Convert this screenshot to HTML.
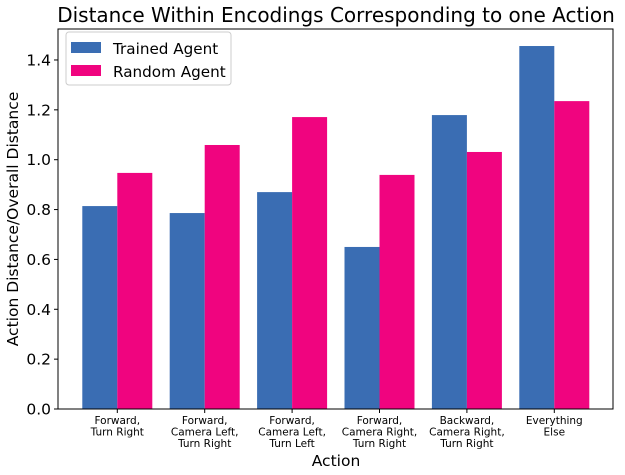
<!DOCTYPE html>
<html><head><meta charset="utf-8"><style>
body{margin:0;background:#fff;}
svg{display:block;font-family:"DejaVu Sans","Liberation Sans",sans-serif;}
</style></head><body>
<svg id="chart" width="625" height="475" viewBox="0 0 625 475" xmlns="http://www.w3.org/2000/svg">
<text x="336" y="22" font-size="20" text-anchor="middle">Distance Within Encodings Corresponding to one Action</text>
<g id="grid"></g>
<g id="bars"></g>
<rect x="58" y="29" width="555" height="380" fill="none" stroke="#000" stroke-width="1"/>
<g id="yaxis"></g>
<g id="xaxis"></g>
<text transform="translate(18,219) rotate(-90)" font-size="15.5" text-anchor="middle">Action Distance/Overall Distance</text>
<text x="336" y="466" font-size="15.5" text-anchor="middle">Action</text>
<g>
<rect x="66" y="32" width="165" height="53" rx="3" fill="#fff" stroke="#ccc"/>
<rect x="71" y="42" width="30" height="11" fill="#3a6db3"/>
<text x="113" y="54" font-size="15.2">Trained Agent</text>
<rect x="71" y="65" width="30" height="11" fill="#f0047f"/>
<text x="113" y="77" font-size="15.2">Random Agent</text>
</g>
</svg>
<script>
const categories=[["Forward,","Turn Right"],["Forward,","Camera Left,","Turn Right"],["Forward,","Camera Left,","Turn Left"],["Forward,","Camera Right,","Turn Right"],["Backward,","Camera Right,","Turn Right"],["Everything","Else"]];
const trained=[0.814,0.786,0.870,0.650,1.179,1.456];
const random=[0.947,1.059,1.171,0.939,1.031,1.235];
const yTicks=[0,0.2,0.4,0.6,0.8,1.0,1.2,1.4];
const yTickLabels=["0.0","0.2","0.4","0.6","0.8","1.0","1.2","1.4"];
const NS="http://www.w3.org/2000/svg";
const y=v=>409-v*249.3;
const xc=i=>117.3+i*87.4;
const bw=35;
function mk(tag,attrs,parent){const e=document.createElementNS(NS,tag);for(const k in attrs)e.setAttribute(k,attrs[k]);parent.appendChild(e);return e;}
const bars=document.getElementById('bars');
categories.forEach((c,i)=>{
 const t=mk('rect',{x:xc(i)-bw,y:y(trained[i]),width:bw,height:409-y(trained[i]),fill:'#3a6db3'},bars);
 
 
 const r=mk('rect',{x:xc(i),y:y(random[i]),width:bw,height:409-y(random[i]),fill:'#f0047f'},bars);
 
 
});
const ya=document.getElementById('yaxis');
yTicks.forEach((v,i)=>{
 const l=mk('line',{x1:54,x2:58,y1:y(v),y2:y(v),stroke:'#000'},ya);
 
 
 const t=mk('text',{x:51,y:y(v)+5.5,'font-size':15.5,'text-anchor':'end'},ya);
 t.textContent=yTickLabels[i];
 
 
});
const xa=document.getElementById('xaxis');
categories.forEach((c,i)=>{
 const l=mk('line',{x1:xc(i),x2:xc(i),y1:409,y2:413,stroke:'#000'},xa);
 
 
 const t=mk('text',{x:xc(i),'font-size':10.5,'text-anchor':'middle'},xa);
 
 
 c.forEach((s,j)=>{const ts=mk('tspan',{x:xc(i),y:424+j*11.5},t);ts.textContent=s;});
});
</script>
</body></html>
